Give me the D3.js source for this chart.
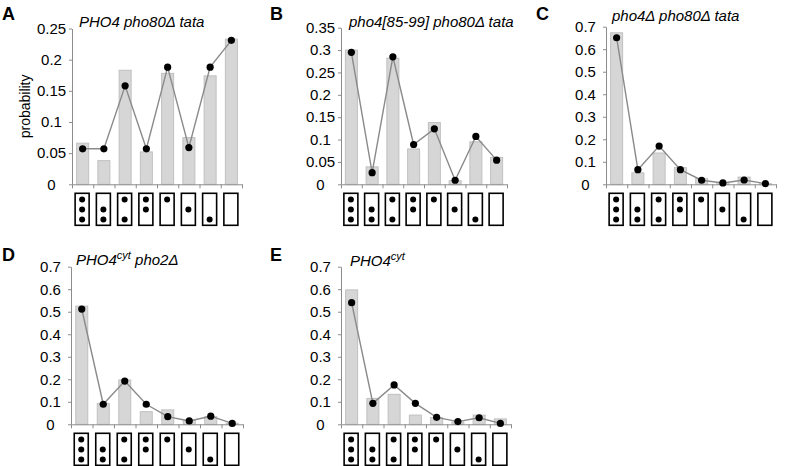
<!DOCTYPE html>
<html><head><meta charset="utf-8">
<script src="https://cdn.jsdelivr.net/npm/d3@7"></script>
<style>
html,body{margin:0;padding:0;background:#fff;}
svg{display:block;font-family:"Liberation Sans",Arial,sans-serif;}
</style></head>
<body>
<svg id="chart" width="790" height="466"></svg>
<script>
// Categories: occupancy of (top, middle, bottom) sites, 1 = occupied
const categories = ["111","011","101","110","100","010","001","000"];

// Panel A: PHO4 pho80Δ tata
const barsA = [0.066, 0.038, 0.183, 0.052, 0.178, 0.075, 0.174, 0.233];
const dotsA = [0.057, 0.057, 0.158, 0.057, 0.188, 0.059, 0.188, 0.231];
const ticksA = [0, 0.05, 0.1, 0.15, 0.2, 0.25];

// Panel B: pho4[85-99] pho80Δ tata
const barsB = [0.300, 0.039, 0.282, 0.079, 0.138, 0.008, 0.095, 0.060];
const dotsB = [0.295, 0.026, 0.285, 0.089, 0.124, 0.009, 0.107, 0.054];
const ticksB = [0, 0.05, 0.1, 0.15, 0.2, 0.25, 0.3, 0.35];

// Panel C: pho4Δ pho80Δ tata
const barsC = [0.673, 0.051, 0.139, 0.074, 0.025, 0.008, 0.032, 0.003];
const dotsC = [0.651, 0.065, 0.170, 0.065, 0.018, 0.006, 0.019, 0.003];
const ticksC = [0, 0.1, 0.2, 0.3, 0.4, 0.5, 0.6, 0.7];

// Panel D: PHO4cyt pho2Δ
const barsD = [0.525, 0.093, 0.197, 0.056, 0.064, 0.018, 0.034, 0.005];
const dotsD = [0.512, 0.089, 0.192, 0.089, 0.034, 0.015, 0.036, 0.004];
const ticksD = [0, 0.1, 0.2, 0.3, 0.4, 0.5, 0.6, 0.7];

// Panel E: PHO4cyt
const barsE = [0.597, 0.115, 0.133, 0.041, 0.030, 0.010, 0.041, 0.024];
const dotsE = [0.540, 0.093, 0.175, 0.093, 0.031, 0.012, 0.029, 0.004];
const ticksE = [0, 0.1, 0.2, 0.3, 0.4, 0.5, 0.6, 0.7];

const svg = d3.select("#chart");

const panels = [
  {letter:"A", lx:2,   ly:20,  left:72,  width:170, y0:184.3, yTop:28.5, bars:barsA, dots:dotsA, ticks:ticksA,
   title:[{t:"PHO4 pho80\u0394 tata"}], tx:79, ty:26.5, ylabel:"probability"},
  {letter:"B", lx:270, ly:20,  left:341, width:166, y0:184.3, yTop:27.7, bars:barsB, dots:dotsB, ticks:ticksB,
   title:[{t:"pho4[85-99] pho80\u0394 tata"}], tx:349, ty:27},
  {letter:"C", lx:536, ly:20,  left:606, width:170, y0:184.3, yTop:26.7, bars:barsC, dots:dotsC, ticks:ticksC,
   title:[{t:"pho4\u0394 pho80\u0394 tata"}], tx:612, ty:21},
  {letter:"D", lx:2,   ly:261, left:71,  width:172, y0:424.3, yTop:266.7, bars:barsD, dots:dotsD, ticks:ticksD,
   title:[{t:"PHO4"},{t:"cyt",sup:true},{t:" pho2\u0394"}], tx:76, ty:265},
  {letter:"E", lx:270, ly:261, left:341, width:170, y0:424.3, yTop:266.7, bars:barsE, dots:dotsE, ticks:ticksE,
   title:[{t:"PHO4"},{t:"cyt",sup:true}], tx:350, ty:266}
];

const fmt = d => d === 0 ? "0" : String(+d.toFixed(2));

panels.forEach(p => {
  const g = svg.append("g");
  const yMax = p.ticks[p.ticks.length-1];
  const y = d3.scaleLinear().domain([0, yMax]).range([p.y0, p.yTop]);
  const x = d3.scaleBand().domain(categories).range([p.left, p.left + p.width]).padding(0);
  const xb = d3.scaleLinear().domain([0, categories.length]).range([p.left, p.left + p.width]);
  const bw = x.bandwidth();
  const barW = 12;

  // panel letter
  g.append("text").attr("x", p.lx).attr("y", p.ly)
    .attr("font-size", 18).attr("font-weight", "bold").attr("fill", "#000").text(p.letter);

  // title
  const tt = g.append("text").attr("x", p.tx).attr("y", p.ty)
    .attr("font-size", 15).attr("font-style", "italic").attr("fill", "#000");
  p.title.forEach(s => {
    const ts = tt.append("tspan").text(s.t);
    if (s.sup) ts.attr("font-size", 11).attr("baseline-shift", "super");
  });

  // y label
  if (p.ylabel) {
    g.append("text")
      .attr("transform", `translate(${p.left - 42},${(p.y0 + p.yTop)/2}) rotate(-90)`)
      .attr("text-anchor", "middle").attr("font-size", 14).attr("fill", "#000").text(p.ylabel);
  }

  // bars
  g.append("g").selectAll("rect").data(p.bars).join("rect")
    .attr("x", (d,i) => x(categories[i]) + (bw - barW)/2)
    .attr("y", d => y(d))
    .attr("width", barW)
    .attr("height", d => p.y0 - y(d))
    .attr("fill", "#d6d6d6").attr("stroke", "#c0c0c0").attr("stroke-width", 1);

  // y axis (labels centred in a column left of the axis)
  const ya = g.append("g").attr("transform", `translate(${p.left},0)`)
    .call(d3.axisLeft(y).tickValues(p.ticks).tickFormat(fmt).tickSize(3).tickSizeOuter(0).tickPadding(3));
  ya.select(".domain").attr("stroke", "#8c8c8c");
  ya.selectAll(".tick line").attr("stroke", "#8c8c8c");
  ya.selectAll(".tick text").attr("font-size", 15).attr("fill", "#000")
    .attr("font-family", "'Liberation Sans',Arial,sans-serif")
    .attr("text-anchor", "middle").attr("x", -20.5);

  // x axis
  const xa = g.append("g").attr("transform", `translate(0,${p.y0})`)
    .call(d3.axisBottom(xb).tickValues(d3.range(categories.length + 1)).tickFormat("").tickSize(4).tickSizeOuter(0));
  xa.select(".domain").attr("stroke", "#8c8c8c");
  xa.selectAll(".tick line").attr("stroke", "#8c8c8c");

  // line + dots
  const line = d3.line().x((d,i) => x(categories[i]) + bw/2).y(d => y(d));
  g.append("path").datum(p.dots).attr("d", line)
    .attr("fill", "none").attr("stroke", "#8a8a8a").attr("stroke-width", 1.4);
  g.append("g").selectAll("circle").data(p.dots).join("circle")
    .attr("cx", (d,i) => x(categories[i]) + bw/2)
    .attr("cy", d => y(d)).attr("r", 3.6).attr("fill", "#000");

  // category icons
  const boxW = 14, boxH = 32, boxTop = p.y0 + 9;
  const ic = g.append("g").selectAll("g").data(categories).join("g")
    .attr("transform", d => `translate(${x(d) + bw/2 - 0.5},${boxTop})`);
  ic.append("rect").attr("x", -boxW/2).attr("y", 0).attr("width", boxW).attr("height", boxH)
    .attr("fill", "#fff").attr("stroke", "#000").attr("stroke-width", 1.6);
  ic.each(function(d) {
    const s = d3.select(this);
    d.split("").forEach((c, k) => {
      if (c === "1") s.append("circle").attr("cx", 0).attr("cy", 6.3 + k*10).attr("r", 3).attr("fill", "#000");
    });
  });
});
</script>
</body></html>
